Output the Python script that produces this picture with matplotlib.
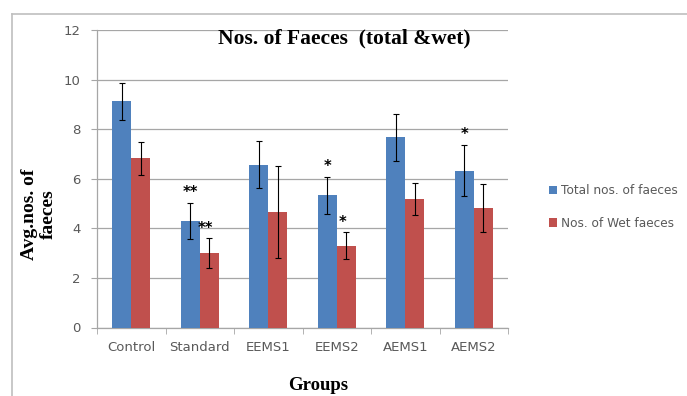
import matplotlib.pyplot as plt
from matplotlib.lines import Line2D
import numpy as np

# Mean faeces counts per group with standard error
groups = ["Control", "Standard", "EEMS1", "EEMS2", "AEMS1", "AEMS2"]
total_faeces = [9.12, 4.31, 6.57, 5.33, 7.67, 6.32]
total_err = [0.75, 0.73, 0.95, 0.75, 0.96, 1.03]
wet_faeces = [6.82, 3.0, 4.65, 3.3, 5.18, 4.82]
wet_err = [0.68, 0.6, 1.85, 0.55, 0.63, 0.97]
total_signif = ["", "**", "", "*", "", "*"]
wet_signif = ["", "**", "", "*", "", ""]

blue = "#4F81BD"
red = "#C0504D"
grid_grey = "#A6A6A6"
text_grey = "#595959"

fig = plt.figure(figsize=(6.87, 3.96), dpi=100)
ax = fig.add_axes([97 / 687, 1 - 327.5 / 396, 411 / 687, 297.5 / 396])

x = np.arange(len(groups))
w = 0.28
err_kw = dict(ecolor="black", elinewidth=0.8, capsize=2.5, capthick=0.8)
ax.bar(x - w / 2, total_faeces, w, yerr=total_err, color=blue,
       label="Total nos. of faeces", error_kw=err_kw, zorder=3)
ax.bar(x + w / 2, wet_faeces, w, yerr=wet_err, color=red,
       label="Nos. of Wet faeces", error_kw=err_kw, zorder=3)

# significance marks above the error bars
for i in range(len(groups)):
    if total_signif[i]:
        ax.text(x[i] - w / 2, total_faeces[i] + total_err[i] + 0.42, total_signif[i],
                ha="center", va="center", fontsize=10.5, fontweight="bold")
    if wet_signif[i]:
        ax.text(x[i] + w / 2 - 0.05, wet_faeces[i] + wet_err[i] + 0.38, wet_signif[i],
                ha="center", va="center", fontsize=10.5, fontweight="bold")

ax.set_ylim(0, 12)
ax.set_xlim(-0.5, len(groups) - 0.5)
ax.set_yticks(range(0, 13, 2))
ax.yaxis.grid(True, color=grid_grey, linewidth=0.9, zorder=0)
ax.set_axisbelow(True)

ax.set_xticks(x)
ax.set_xticklabels(groups)
ax.set_xticks(np.arange(-0.5, len(groups)), minor=True)
ax.tick_params(axis="x", which="major", length=0, pad=10, labelsize=9.5, labelcolor=text_grey)
ax.tick_params(axis="x", which="minor", length=4, color=grid_grey, direction="out")
ax.tick_params(axis="y", length=4, color=grid_grey, labelsize=9.5, labelcolor=text_grey, pad=8)

for side in ["top", "right"]:
    ax.spines[side].set_visible(False)
for side in ["left", "bottom"]:
    ax.spines[side].set_color(grid_grey)
    ax.spines[side].set_linewidth(0.9)

fig.text(344 / 687, 1 - 38 / 396, "Nos. of Faeces  (total &wet)",
         ha="center", va="center", fontsize=15.5, fontweight="bold",
         family="Liberation Serif")

fig.text(39 / 687, 1 - 214 / 396, "Avg.nos. of\nfaeces", rotation=90,
         ha="center", va="center", fontsize=14, fontweight="bold",
         family="Liberation Serif", linespacing=1.15)
fig.text(318 / 687, 1 - 386 / 396, "Groups", ha="center", va="center",
         fontsize=13.5, fontweight="bold", family="Liberation Serif")

fig.legend(loc="center left", bbox_to_anchor=(538 / 687, 1 - 207 / 396),
           frameon=False, fontsize=8.7, handlelength=0.7, handleheight=0.7,
           handletextpad=0.3, labelspacing=1.6, labelcolor=text_grey)

# outer chart border
fig.add_artist(Line2D([12 / 687, 12 / 687], [0, 1 - 14 / 396], color="#BFBFBF", linewidth=1.2))
fig.add_artist(Line2D([12 / 687, 1], [1 - 14 / 396, 1 - 14 / 396], color="#BFBFBF", linewidth=1.2))

fig.savefig("out.png", dpi=100)
